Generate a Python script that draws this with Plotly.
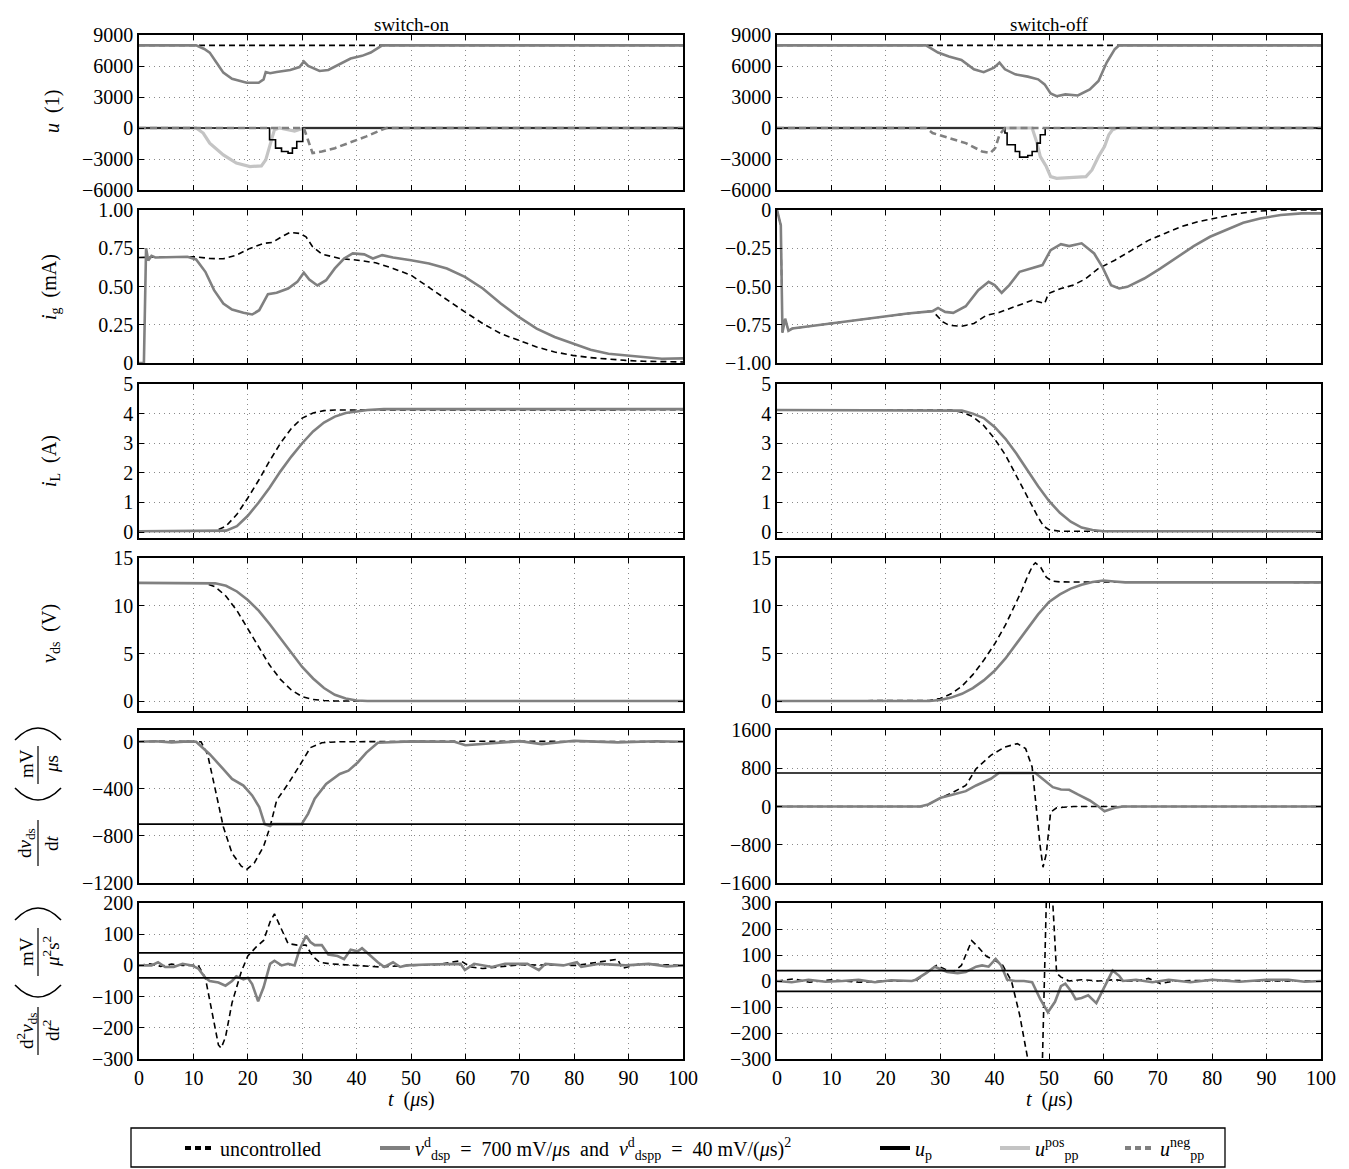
import plotly.graph_objects as go
from plotly.subplots import make_subplots

# ---------------- data: switch-on ----------------
on_u_unc_t = [0, 100]
on_u_unc = [8000, 8000]
on_u_t = [0, 10.5, 12, 13, 14.3, 15.5, 17.1, 19.8, 22, 22.9, 23.3, 24.1, 25.3, 27.8, 29.5, 30.3, 31.1, 33.2, 34.8, 36.9, 38.9, 41, 42.6, 44.7, 100]
on_u = [8000, 8000, 7650, 7300, 6300, 5360, 4770, 4380, 4380, 4700, 5420, 5300, 5420, 5620, 5900, 6430, 6000, 5520, 5620, 6170, 6720, 6980, 7300, 8000, 8000]
on_upos_t = [0, 10.5, 11.8, 13, 15.5, 17.9, 20.4, 22.5, 23.3, 24.1, 24.9, 25.8, 27.5, 28.6, 30.3, 100]
on_upos = [0, 0, -490, -1460, -2600, -3400, -3730, -3670, -3080, -1620, -160, 0, -200, -300, 0, 0]
on_up_t = [0, 24.0, 25.1, 26.2, 27.4, 28.2, 29.0, 30.1, 100]
on_up = [0, -1140, -1950, -2270, -2430, -1950, -1300, 0, 0]
on_uneg_t = [0, 30.3, 31.9, 33.6, 36.0, 39.3, 41.8, 44.7, 45.5, 100]
on_uneg = [0, 0, -2430, -2270, -1950, -1300, -810, -160, 0, 0]

on_ig_unc_t = [0, 2, 10.5, 13, 15.5, 17.9, 20.4, 22.9, 24.5, 26.2, 27.8, 29.5, 30.7, 31.9, 33.6, 36.9, 40.2, 43.5, 46.7, 50, 53.3, 56.6, 59.9, 63.2, 66.5, 69.8, 73.1, 76.4, 79.7, 83, 86.3, 89.5, 92.8, 100]
on_ig_unc = [0.69, 0.69, 0.694, 0.683, 0.681, 0.705, 0.749, 0.782, 0.788, 0.825, 0.854, 0.847, 0.825, 0.76, 0.712, 0.683, 0.672, 0.655, 0.618, 0.574, 0.493, 0.41, 0.334, 0.258, 0.192, 0.148, 0.105, 0.072, 0.05, 0.035, 0.024, 0.017, 0.011, 0.007]
on_ig_t = [0, 0.9, 1.3, 1.7, 2.3, 3, 8.9, 10.5, 12.2, 13.8, 15.5, 17.1, 19.2, 20.8, 22.1, 22.9, 23.7, 25.3, 27.4, 29.1, 30.3, 31.3, 32.8, 34.4, 36, 37.7, 39.3, 41.4, 43, 44.7, 46.7, 50, 53.3, 56.6, 59.9, 63.2, 66.5, 69.8, 73.1, 76.4, 79.7, 83, 86.3, 89.5, 92.8, 96.1, 100]
on_ig = [0, 0, 0.75, 0.67, 0.70, 0.69, 0.694, 0.677, 0.596, 0.476, 0.389, 0.349, 0.328, 0.317, 0.345, 0.40, 0.45, 0.459, 0.487, 0.53, 0.59, 0.546, 0.507, 0.541, 0.618, 0.683, 0.716, 0.71, 0.683, 0.705, 0.69, 0.672, 0.651, 0.618, 0.563, 0.487, 0.389, 0.301, 0.225, 0.17, 0.127, 0.087, 0.061, 0.05, 0.039, 0.028, 0.03]

on_il_unc_t = [0, 14, 16, 18, 20, 22, 24, 26, 28, 30, 32, 34, 36, 100]
on_il_unc = [0.03, 0.03, 0.2, 0.6, 1.15, 1.75, 2.4, 3.0, 3.5, 3.85, 4.02, 4.1, 4.12, 4.13]
on_il_t = [0, 16, 18, 20, 22, 24, 26, 28, 30, 32, 34, 36, 38, 40, 42, 45, 100]
on_il = [0.03, 0.05, 0.2, 0.55, 1.0, 1.5, 2.05, 2.55, 3.0, 3.4, 3.7, 3.9, 4.02, 4.08, 4.12, 4.15, 4.15]

on_vds_unc_t = [0, 12, 14, 16, 18, 20, 22, 24, 26, 28, 30, 32, 34, 36, 100]
on_vds_unc = [12.4, 12.4, 12.0, 11.0, 9.5, 7.6, 5.6, 3.8, 2.3, 1.2, 0.5, 0.2, 0.1, 0.05, 0.05]
on_vds_t = [0, 12, 14, 16, 18, 20, 22, 24, 26, 28, 30, 32, 34, 36, 38, 40, 42, 100]
on_vds = [12.4, 12.4, 12.35, 12.1, 11.5, 10.6, 9.5, 8.1, 6.6, 5.0, 3.6, 2.4, 1.4, 0.7, 0.3, 0.1, 0.05, 0.05]

on_dv_unc_t = [0, 5, 11.4, 12.6, 13.8, 15.5, 17.1, 18.8, 19.8, 21.2, 22.9, 24.1, 25.3, 27.4, 29.5, 31.5, 33.6, 36.9, 60, 100]
on_dv_unc = [0, 5, 0, -106, -358, -722, -946, -1057, -1085, -1029, -890, -722, -498, -358, -204, -50, -8, 0, 5, 0]
on_dv_t = [0, 3, 6, 9, 10.5, 13, 15.5, 17.1, 19.2, 20.8, 22.1, 23.1, 24.1, 24.5, 29.9, 31.1, 32.3, 34.4, 36.9, 38.5, 40.2, 41.8, 43.9, 50, 58, 60, 70, 74, 80, 88, 95, 100]
on_dv = [0, 5, -5, 3, 0, -106, -232, -316, -372, -456, -554, -700, -716, -700, -700, -610, -484, -358, -274, -246, -176, -92, -8, 3, 0, -30, 5, -20, 8, -5, 5, 0]
thr_dsp = 700

on_d2_unc_t = [0, 2, 4, 6, 8, 10.9, 12.2, 13.4, 14.6, 15.1, 15.9, 17.1, 18.8, 20, 21.6, 22.9, 24.1, 24.9, 25.8, 27.4, 29.1, 30.7, 31.9, 33.2, 35.2, 40.2, 44.3, 50, 55, 59.1, 61, 63.2, 70, 80.5, 88, 88.8, 92, 100]
on_d2_unc = [0, 5, -3, 4, 0, 0, -40, -150, -255, -265, -230, -120, -20, 30, 60, 80, 140, 165, 130, 70, 65, 65, 30, 10, 5, 0, -5, 0, 3, 15, -5, -10, 2, 0, 20, -10, 5, 0]
on_d2_t = [0, 2.3, 3.5, 4.8, 6.4, 8, 9.7, 10.9, 12.2, 13, 14.6, 15.9, 17.1, 17.9, 19.2, 20, 20.8, 21.9, 22.9, 24.1, 24.9, 26.2, 27.4, 28.6, 29.5, 30.7, 31.5, 32.3, 33.6, 34.8, 36.5, 37.7, 38.9, 40.2, 41, 42.6, 43.9, 45.1, 46.7, 48, 49.2, 53, 56.6, 59.1, 59.9, 61.6, 64.9, 67.3, 71.4, 73.5, 74.7, 78, 80.5, 81.3, 84.6, 89.5, 93.7, 97, 100]
on_d2 = [0, 0, 10, -5, -5, 5, 0, -10, -40, -50, -55, -65, -50, -35, -45, -40, -60, -115, -70, 5, 15, 0, 5, 0, 50, 95, 75, 65, 65, 35, 30, 20, 50, 45, 55, 30, 10, -5, 10, -5, 0, 3, 5, 5, -15, 5, -5, 5, 5, -15, 5, 0, 10, -5, 5, 0, 5, -3, 0]
thr_dspp = 40

# ---------------- data: switch-off ----------------
off_u_unc_t = [0, 100]
off_u_unc = [8000, 8000]
off_u_t = [0, 27.4, 29.6, 31.6, 33.9, 36.2, 38.0, 39.9, 40.9, 41.9, 43.8, 46.1, 48.0, 49.2, 50.3, 51.4, 53.0, 55.3, 57.5, 59.1, 60.6, 62.1, 62.9, 100]
off_u = [8000, 8000, 7300, 6920, 6590, 5680, 5400, 5840, 6330, 5680, 5190, 4970, 4710, 4220, 3340, 3080, 3250, 3150, 3730, 4550, 6330, 7630, 8000, 8000]
off_upos_t = [0, 46.9, 47.8, 48.4, 49.5, 50.3, 51.4, 54.5, 56.8, 57.9, 59.1, 60.2, 61.0, 61.7, 62.5, 100]
off_upos = [0, 0, -1460, -2760, -3730, -4700, -4870, -4800, -4700, -4060, -2760, -1790, -650, -160, 0, 0]
off_up_t = [0, 41.9, 42.3, 43.8, 44.6, 46.1, 46.9, 47.8, 48.4, 49.3, 100]
off_up = [0, -490, -1620, -2270, -2820, -2660, -2270, -1460, -650, 0, 0]
off_uneg_t = [0, 27.4, 28.6, 31.6, 34.7, 37.7, 39.2, 40.1, 40.9, 41.9, 100]
off_uneg = [0, 0, -490, -970, -1460, -2270, -2430, -1950, -650, 0, 0]

off_ig_unc_t = [0, 0.7, 1.0, 1.5, 2.1, 2.8, 8.8, 16.4, 24, 28.6, 29.3, 30.5, 31.6, 33.9, 36.2, 38.5, 40.8, 43.8, 46.9, 49.2, 49.9, 52.2, 54.5, 56.8, 59.1, 62.1, 65.2, 68.2, 71.3, 74.3, 77.4, 81.1, 85, 88.8, 92.6, 100]
off_ig_unc = [0, -0.1, -0.8, -0.71, -0.79, -0.775, -0.747, -0.71, -0.677, -0.661, -0.688, -0.731, -0.753, -0.76, -0.742, -0.688, -0.67, -0.633, -0.59, -0.611, -0.546, -0.513, -0.491, -0.448, -0.382, -0.328, -0.262, -0.2, -0.153, -0.109, -0.076, -0.048, -0.022, -0.007, 0, 0]
off_ig_t = [0, 0.7, 1.0, 1.5, 2.1, 2.8, 8.8, 16.4, 24, 28.6, 29.6, 30.9, 32.4, 34.7, 37, 38.9, 40, 41.3, 42.7, 44.6, 46.9, 48.8, 50.3, 52.2, 53.7, 56, 58.3, 59.8, 61.4, 62.9, 64.4, 67.5, 70.5, 73.6, 76.6, 79.6, 82.7, 85.7, 88.8, 92.6, 96.4, 100]
off_ig = [0, -0.1, -0.8, -0.71, -0.79, -0.775, -0.747, -0.71, -0.677, -0.661, -0.64, -0.666, -0.672, -0.629, -0.524, -0.469, -0.491, -0.541, -0.491, -0.404, -0.382, -0.36, -0.262, -0.223, -0.236, -0.218, -0.284, -0.371, -0.491, -0.513, -0.502, -0.448, -0.382, -0.306, -0.236, -0.175, -0.127, -0.083, -0.055, -0.033, -0.022, -0.022]

off_il_unc_t = [0, 32, 34, 36, 38, 40, 42, 44, 46, 48, 49, 50, 52, 100]
off_il_unc = [4.12, 4.12, 4.05, 3.9, 3.6, 3.15, 2.6, 1.9, 1.15, 0.5, 0.2, 0.08, 0.03, 0.03]
off_il_t = [0, 32, 34, 36, 38, 40, 42, 44, 46, 48, 50, 52, 54, 56, 58, 60, 100]
off_il = [4.12, 4.12, 4.1, 4.0, 3.85, 3.55, 3.15, 2.65, 2.1, 1.55, 1.05, 0.65, 0.35, 0.15, 0.07, 0.03, 0.03]

off_vds_unc_t = [0, 27, 28, 30, 32, 34, 36, 38, 40, 42, 44, 45, 46, 47, 47.5, 48.5, 49.5, 50.5, 52, 100]
off_vds_unc = [0.05, 0.05, 0.1, 0.3, 0.8, 1.6, 2.8, 4.3, 6.0, 8.0, 10.3, 11.6, 13.0, 14.2, 14.5, 14.0, 13.0, 12.6, 12.5, 12.45]
off_vds_t = [0, 28, 30, 32, 34, 36, 38, 40, 42, 44, 46, 48, 50, 52, 54, 56, 58, 60, 62, 64, 100]
off_vds = [0.05, 0.05, 0.15, 0.4, 0.8, 1.4, 2.2, 3.2, 4.5, 6.0, 7.6, 9.1, 10.4, 11.2, 11.8, 12.2, 12.5, 12.65, 12.55, 12.45, 12.45]

off_dv_unc_t = [0, 27.1, 30.1, 32.4, 34.7, 36.6, 39.3, 41.9, 44.2, 45.7, 46.9, 47.6, 48.4, 48.9, 49.5, 50.3, 51.4, 54.5, 100]
off_dv_unc = [0, 0, 182, 300, 440, 790, 1070, 1245, 1315, 1210, 825, -14, -852, -1270, -990, -120, -28, 0, 0]
off_dv_t = [0, 26.3, 27.8, 30.1, 32.4, 34.7, 36.6, 39.3, 40.8, 47.5, 48.8, 50.7, 52.2, 53.7, 55.3, 57.5, 59.1, 60.2, 62.1, 63.6, 100]
off_dv = [0, 0, 42, 182, 252, 321, 440, 580, 700, 700, 580, 405, 356, 350, 252, 126, 0, -98, -28, 0, 0]

off_d2_unc_t = [0, 3, 6, 10, 15, 20, 25.5, 27.4, 29.3, 30.9, 32.4, 33.9, 35.1, 35.8, 37, 38.5, 40, 41.5, 43.1, 44.6, 46.1, 46.9, 48.4, 48.8, 49.5, 49.9, 50.7, 51.4, 52.2, 53.7, 56, 59.1, 62.1, 64.4, 66, 68.3, 70.5, 73, 80, 90, 100]
off_d2_unc = [0, 8, -5, 5, -5, 0, 0, 30, 60, 45, 35, 60, 125, 155, 130, 95, 80, 60, 0, -130, -300, -400, -400, -300, 300, 400, 300, 30, 15, 0, 5, 0, 5, 0, 0, 10, -10, 0, 3, 0, 0]
off_d2_t = [0, 2.7, 5.8, 8.9, 12, 15, 18, 21, 24.8, 25.5, 27.4, 29, 30.1, 31.3, 33.2, 34.7, 36.6, 37.7, 38.9, 40.2, 41.2, 42.3, 43.8, 45.4, 46.9, 48.4, 49.8, 51.1, 52.2, 53, 54.1, 54.9, 56, 57.2, 58.7, 59.8, 61, 61.7, 62.9, 63.6, 66, 69, 72, 76, 80, 85, 90, 94, 97, 100]
off_d2 = [0, -5, 5, -3, 0, 5, -5, 3, 0, 5, 30, 55, 45, 35, 30, 35, 55, 60, 55, 85, 60, 5, 0, 0, -5, -70, -120, -80, -20, -10, -40, -70, -65, -55, -85, -40, 10, 40, 20, 0, 5, -5, 5, -5, 5, -3, 5, 5, -3, 0]

# ---------------- figure ----------------
OFF = 8                      # page body margin of the browser
W, H = 1349 - OFF, 1169 - OFF
FONT = "Liberation Serif"
GRAY = "#808080"
LGRAY = "#c4c4c4"
UNC_DASH = "6px,4px"

def PX(x):
    return (x - OFF) / W

def PY(y):
    return 1 - (y - OFF) / H

fig = make_subplots(rows=6, cols=2)

def unc(t, y, r, c):
    fig.add_trace(go.Scatter(x=t, y=y, mode="lines", showlegend=False,
                             line=dict(color="black", width=1.6, dash=UNC_DASH)), row=r, col=c)

def ctl(t, y, r, c):
    fig.add_trace(go.Scatter(x=t, y=y, mode="lines", showlegend=False,
                             line=dict(color=GRAY, width=2.6)), row=r, col=c)

def hline(val, r, c):
    fig.add_trace(go.Scatter(x=[0, 100], y=[val, val], mode="lines", showlegend=False,
                             line=dict(color="black", width=1.6)), row=r, col=c)

# row 1 : actuating variables
for (c, ut, uu, pt, pv, qt, qv, nt, nv, gt, gv) in [
        (1, on_u_unc_t, on_u_unc, on_upos_t, on_upos, on_up_t, on_up, on_uneg_t, on_uneg, on_u_t, on_u),
        (2, off_u_unc_t, off_u_unc, off_upos_t, off_upos, off_up_t, off_up, off_uneg_t, off_uneg, off_u_t, off_u)]:
    unc(ut, uu, 1, c)
    fig.add_trace(go.Scatter(x=pt, y=pv, mode="lines", showlegend=False,
                             line=dict(color=LGRAY, width=3.2)), row=1, col=c)
    fig.add_trace(go.Scatter(x=qt, y=qv, mode="lines", showlegend=False,
                             line=dict(color="black", width=1.6, shape="hv")), row=1, col=c)
    fig.add_trace(go.Scatter(x=nt, y=nv, mode="lines", showlegend=False,
                             line=dict(color=GRAY, width=2.6, dash="7px,4px")), row=1, col=c)
    ctl(gt, gv, 1, c)

panels = [
    (2, 1, on_ig_unc_t, on_ig_unc, on_ig_t, on_ig), (2, 2, off_ig_unc_t, off_ig_unc, off_ig_t, off_ig),
    (3, 1, on_il_unc_t, on_il_unc, on_il_t, on_il), (3, 2, off_il_unc_t, off_il_unc, off_il_t, off_il),
    (4, 1, on_vds_unc_t, on_vds_unc, on_vds_t, on_vds), (4, 2, off_vds_unc_t, off_vds_unc, off_vds_t, off_vds),
    (5, 1, on_dv_unc_t, on_dv_unc, on_dv_t, on_dv), (5, 2, off_dv_unc_t, off_dv_unc, off_dv_t, off_dv),
    (6, 1, on_d2_unc_t, on_d2_unc, on_d2_t, on_d2), (6, 2, off_d2_unc_t, off_d2_unc, off_d2_t, off_d2),
]
for r, c, ut, uv, gt, gv in panels:
    unc(ut, uv, r, c)
    ctl(gt, gv, r, c)

hline(-thr_dsp, 5, 1)
hline(thr_dsp, 5, 2)
for c in (1, 2):
    hline(thr_dspp, 6, c)
    hline(-thr_dspp, 6, c)

# ---------------- legend (one legend per entry, placed like the reference) ----------------
NB = "\u00a0"
leg_names = ["uncontrolled",
             f"<i>v</i><sup>d</sup><sub>dsp</sub>{NB}{NB}={NB}{NB}700{NB}mV/<i>μ</i>s{NB}{NB}and{NB}{NB}<i>v</i><sup>d</sup><sub>dspp</sub>{NB}{NB}={NB}{NB}40{NB}mV/(<i>μ</i>s)<sup>2</sup>",
             "<i>u</i><sub>p</sub>",
             "<i>u</i><sup>pos</sup><sub>pp</sub>",
             "<i>u</i><sup>neg</sup><sub>pp</sub>"]
leg_lines = [dict(color="black", width=4, dash="6px,4px"),
             dict(color=GRAY, width=4),
             dict(color="black", width=4),
             dict(color=LGRAY, width=4),
             dict(color=GRAY, width=4, dash="6px,4px")]
leg_text_px = [220, 415, 915, 1035, 1160]
leg_ids = ["legend", "legend2", "legend3", "legend4", "legend5"]
for nm, ln, lid in zip(leg_names, leg_lines, leg_ids):
    fig.add_trace(go.Scatter(x=[None], y=[None], mode="lines", name=nm, line=ln, legend=lid,
                             showlegend=True), row=1, col=1)

leg_layout = {}
for lid, tx in zip(leg_ids, leg_text_px):
    leg_layout[lid] = dict(x=PX(tx - 40), xanchor="left", y=PY(1148), yanchor="middle",
                           orientation="h", borderwidth=0, bgcolor="rgba(0,0,0,0)",
                           font=dict(family=FONT, size=20, color="black"), itemwidth=30)
fig.add_shape(type="rect", xref="paper", yref="paper", x0=PX(131), x1=PX(1225),
              y0=PY(1167), y1=PY(1128), line=dict(color="black", width=1.3))

# ---------------- axes ----------------
rows_px = [(35, 190), (210, 363), (384, 538), (558, 711), (730, 883), (903, 1059)]
xdom = {1: [PX(139), PX(683)], 2: [PX(777), PX(1321)]}

yspec = {
    (1, 1): ([-6000, 9000], [-6000, -3000, 0, 3000, 6000, 9000], None),
    (1, 2): ([-6000, 9000], [-6000, -3000, 0, 3000, 6000, 9000], None),
    (2, 1): ([0, 1], [0, 0.25, 0.5, 0.75, 1.0], ["0", "0.25", "0.50", "0.75", "1.00"]),
    (2, 2): ([-1, 0], [-1, -0.75, -0.5, -0.25, 0], ["\u22121.00", "\u22120.75", "\u22120.50", "\u22120.25", "0"]),
    (3, 1): ([-0.2, 5], [0, 1, 2, 3, 4, 5], None),
    (3, 2): ([-0.2, 5], [0, 1, 2, 3, 4, 5], None),
    (4, 1): ([-1, 15], [0, 5, 10, 15], None),
    (4, 2): ([-1, 15], [0, 5, 10, 15], None),
    (5, 1): ([-1200, 100], [-1200, -800, -400, 0], None),
    (5, 2): ([-1600, 1600], [-1600, -800, 0, 800, 1600], None),
    (6, 1): ([-300, 200], [-300, -200, -100, 0, 100, 200], None),
    (6, 2): ([-300, 300], [-300, -200, -100, 0, 100, 200, 300], None),
}

TICKF = dict(family=FONT, size=20, color="black")
common = dict(showline=True, linecolor="black", linewidth=1.5, mirror="ticks", ticks="inside",
              ticklen=5, tickcolor="black", showgrid=True, gridcolor="#8a8a8a", gridwidth=1.2,
              griddash="1px,4px", zeroline=False, tickfont=TICKF, automargin=False)

for r in range(1, 7):
    top, bot = rows_px[r - 1]
    for c in (1, 2):
        idx = (r - 1) * 2 + c
        xa = "xaxis" if idx == 1 else f"xaxis{idx}"
        ya = "yaxis" if idx == 1 else f"yaxis{idx}"
        rng, tv, tt = yspec[(r, c)]
        xkw = dict(common, domain=xdom[c], range=[0, 100], tickvals=list(range(0, 101, 10)),
                   showticklabels=(r == 6))
        ykw = dict(common, domain=[PY(bot), PY(top)], range=rng, tickvals=tv)
        if tt is not None:
            ykw["ticktext"] = tt
        fig.layout[xa].update(xkw)
        fig.layout[ya].update(ykw)

def ann(text, xpx, ypx, size=20, angle=0):
    fig.add_annotation(text=text, x=PX(xpx), y=PY(ypx), xref="paper", yref="paper",
                       showarrow=False, textangle=angle, xanchor="center", yanchor="middle",
                       font=dict(family=FONT, size=size, color="black"))

def vbar(xpx, y0px, y1px):
    fig.add_shape(type="line", xref="paper", yref="paper", x0=PX(xpx), x1=PX(xpx),
                  y0=PY(y0px), y1=PY(y1px), line=dict(color="black", width=1.2))

def paren(x0, x1, ytip, yapex):
    xm = (x0 + x1) / 2
    yc = 2 * yapex - ytip
    path = f"M {PX(x0)},{PY(ytip)} Q {PX(xm)},{PY(yc)} {PX(x1)},{PY(ytip)}"
    fig.add_shape(type="path", xref="paper", yref="paper", path=path,
                  line=dict(color="black", width=1.6))

# column titles
ann("switch-on", 411, 25, 19)
ann("switch-off", 1049, 25, 19)
# x-axis titles
ann("<i>t</i>  (<i>μ</i>s)", 411, 1099, 20)
ann("<i>t</i>  (<i>μ</i>s)", 1049, 1099, 20)
# y-axis titles (rows 1-4)
ann("<i>u</i>  (1)", 52, 112, 20, -90)
ann("<i>i</i><sub>g</sub>  (mA)", 50, 287, 20, -90)
ann("<i>i</i><sub>L</sub>  (A)", 50, 461, 20, -90)
ann("<i>v</i><sub>ds</sub>  (V)", 50, 634, 20, -90)
# row 5 label: dv_ds/dt (mV/us) as stacked fractions
ann("d<i>v</i><sub>ds</sub>", 26, 843, 19, -90)
vbar(38, 820, 866)
ann("d<i>t</i>", 51, 843, 19, -90)
ann("mV", 26, 764, 19, -90)
vbar(38, 746, 784)
ann("<i>μ</i>s", 51, 764, 19, -90)
paren(15, 61, 788, 800)
paren(15, 61, 740, 728)
# row 6 label: d2v_ds/dt2 (mV/(u2 s2))
ann("d<sup>2</sup><i>v</i><sub>ds</sub>", 26, 1031, 19, -90)
vbar(38, 1007, 1055)
ann("d<i>t</i><sup>2</sup>", 51, 1031, 19, -90)
ann("mV", 26, 952, 19, -90)
vbar(38, 928, 976)
ann("<i>μ</i><sup>2</sup>s<sup>2</sup>", 51, 952, 19, -90)
paren(15, 61, 985, 997)
paren(15, 61, 920, 908)

fig.update_layout(
    width=W, height=H, margin=dict(l=0, r=0, t=0, b=0, autoexpand=False),
    plot_bgcolor="white", paper_bgcolor="white",
    font=dict(family=FONT, size=19, color="black"),
    **leg_layout,
)

fig.write_html("out.html")
